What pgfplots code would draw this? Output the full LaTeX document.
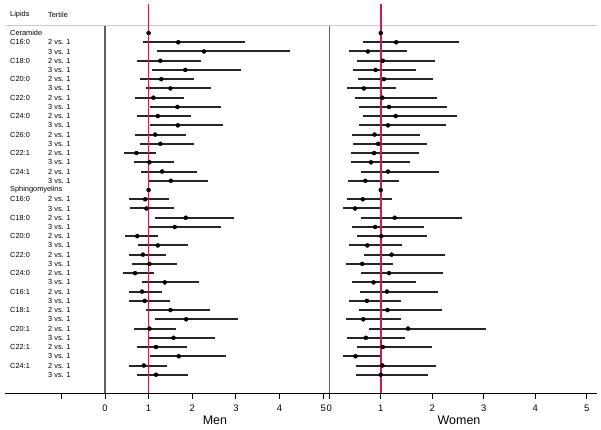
\documentclass[border=0pt]{standalone}
\usepackage{fontspec}
\setmainfont{Liberation Sans}
\usepackage{pgfplots}
\usepackage{pgfplotstable}
\pgfplotsset{compat=1.18}
\definecolor{refred}{RGB}{200,30,80}
\definecolor{sepgray}{RGB}{95,95,95}
\definecolor{hdrgray}{RGB}{205,205,205}

% rows: 0 = Ceramide reference, 17 = Sphingomyelins reference
\pgfplotstableread{
row lo or hi
0 1 1 1
1 0.88 1.68 3.20
2 1.20 2.27 4.24
3 0.74 1.27 2.19
4 1.07 1.84 3.12
5 0.81 1.29 2.05
6 0.93 1.50 2.43
7 0.68 1.11 1.82
8 1.04 1.66 2.67
9 0.73 1.21 1.97
10 1.04 1.67 2.70
11 0.69 1.15 1.85
12 0.80 1.27 2.04
13 0.44 0.72 1.16
14 0.66 1.02 1.58
15 0.82 1.31 2.10
16 0.98 1.51 2.37
17 1 1 1
18 0.56 0.92 1.47
19 0.58 0.95 1.58
20 1.15 1.85 2.95
21 0.98 1.60 2.65
22 0.46 0.74 1.21
23 0.76 1.21 1.91
24 0.54 0.87 1.40
25 0.63 1.02 1.66
26 0.42 0.69 1.13
27 0.86 1.37 2.16
28 0.55 0.85 1.31
29 0.56 0.91 1.49
30 0.95 1.50 2.40
31 1.14 1.86 3.05
32 0.66 1.02 1.63
33 1.00 1.57 2.53
34 0.73 1.17 1.88
35 1.04 1.69 2.77
36 0.56 0.89 1.42
37 0.73 1.17 1.90
}\men

\pgfplotstableread{
row lo or hi
0 1 1 1
1 0.66 1.30 2.52
2 0.38 0.75 1.51
3 0.53 1.04 2.05
4 0.47 0.90 1.69
5 0.56 1.06 2.01
6 0.35 0.67 1.29
7 0.49 1.03 2.10
8 0.58 1.16 2.29
9 0.66 1.29 2.48
10 0.58 1.14 2.26
11 0.44 0.88 1.77
12 0.47 0.95 1.90
13 0.43 0.87 1.75
14 0.42 0.81 1.56
15 0.61 1.14 2.14
16 0.36 0.70 1.35
17 1 1 1
18 0.34 0.65 1.22
19 0.26 0.50 0.99
20 0.62 1.27 2.58
21 0.44 0.89 1.84
22 0.54 1.01 1.90
23 0.39 0.74 1.42
24 0.67 1.21 2.25
25 0.33 0.64 1.24
26 0.61 1.16 2.21
27 0.44 0.86 1.69
28 0.59 1.12 2.11
29 0.39 0.73 1.40
30 0.58 1.13 2.19
31 0.32 0.66 1.39
32 0.77 1.53 3.04
33 0.35 0.71 1.47
34 0.54 1.04 2.00
35 0.27 0.51 1.00
36 0.52 1.03 2.08
37 0.52 1.00 1.92
}\women

\newcommand{\lab}{\fontsize{7.4}{8}\selectfont}

\pgfplotsset{
  forest/.style={
    scale only axis,
    height=389.3bp,
    ymin=-3.14, ymax=39.01,
    y dir=reverse,
    axis x line=bottom,
    axis y line=none,
    x axis line style={-, black, line width=1.1bp},
    tick align=outside,
    major tick length=5.5bp,
    xtick style={black, line width=0.9bp},
    xticklabel style={font=\fontsize{9.5}{11}\selectfont, yshift=-2.5bp},
    /pgf/number format/assume math mode=true,
    clip=false,
  },
  bars/.style={
    only marks, mark=none,
    error bars/.cd, x dir=both, x explicit, error mark=none,
    error bar style={black!85, line width=2bp},
  },
  dots/.style={only marks, mark=*, mark size=1.7bp, black},
}

\begin{document}
\begin{tikzpicture}
\useasboundingbox (0,0) rectangle (601bp,430bp);

% Men panel (also carries the label column on its left)
\begin{axis}[forest,
  at={(5bp,36.7bp)},
  width=324.3bp,
  xmin=-2.29, xmax=5.14,
  xtick={-1,0,1,2,3,4,5},
  xticklabels={,0,1,2,3,4,5},
]
\addplot[hdrgray, line width=1bp] coordinates {(-2.29,-0.79) (5.14,-0.79)};
\addplot[sepgray, line width=1.1bp] coordinates {(0,-0.79) (0,39.01)};
\addplot[bars] table[x=or, y=row,
  x error plus expr=\thisrow{hi}-\thisrow{or},
  x error minus expr=\thisrow{or}-\thisrow{lo}] {\men};
\addplot[refred, line width=1.5bp] coordinates {(1,-3.14) (1,39.01)};
\addplot[dots] table[x=or, y=row] {\men};

\node[anchor=west, inner sep=0pt, font=\lab] at (axis cs:-2.175,-1.95) {Lipids};
\node[anchor=west, inner sep=0pt, font=\lab] at (axis cs:-1.305,-1.95) {Tertile};
\node[anchor=west, inner sep=0pt, font=\lab] at (axis cs:-2.175,0) {Ceramide};
\node[anchor=west, inner sep=0pt, font=\lab] at (axis cs:-2.175,17) {Sphingomyelins};
\pgfplotsinvokeforeach{1,3,5,7,9,11,13,15,18,20,22,24,26,28,30,32,34,36}{
  \node[anchor=west, inner sep=0pt, font=\lab] at (axis cs:-1.305,#1) {2 vs. 1};
  \node[anchor=west, inner sep=0pt, font=\lab] at (axis cs:-1.305,#1+1) {3 vs. 1};
}
\node[anchor=west, inner sep=0pt, font=\lab] at (axis cs:-2.175,1) {C16:0};
\node[anchor=west, inner sep=0pt, font=\lab] at (axis cs:-2.175,3) {C18:0};
\node[anchor=west, inner sep=0pt, font=\lab] at (axis cs:-2.175,5) {C20:0};
\node[anchor=west, inner sep=0pt, font=\lab] at (axis cs:-2.175,7) {C22:0};
\node[anchor=west, inner sep=0pt, font=\lab] at (axis cs:-2.175,9) {C24:0};
\node[anchor=west, inner sep=0pt, font=\lab] at (axis cs:-2.175,11) {C26:0};
\node[anchor=west, inner sep=0pt, font=\lab] at (axis cs:-2.175,13) {C22:1};
\node[anchor=west, inner sep=0pt, font=\lab] at (axis cs:-2.175,15) {C24:1};
\node[anchor=west, inner sep=0pt, font=\lab] at (axis cs:-2.175,18) {C16:0};
\node[anchor=west, inner sep=0pt, font=\lab] at (axis cs:-2.175,20) {C18:0};
\node[anchor=west, inner sep=0pt, font=\lab] at (axis cs:-2.175,22) {C20:0};
\node[anchor=west, inner sep=0pt, font=\lab] at (axis cs:-2.175,24) {C22:0};
\node[anchor=west, inner sep=0pt, font=\lab] at (axis cs:-2.175,26) {C24:0};
\node[anchor=west, inner sep=0pt, font=\lab] at (axis cs:-2.175,28) {C16:1};
\node[anchor=west, inner sep=0pt, font=\lab] at (axis cs:-2.175,30) {C18:1};
\node[anchor=west, inner sep=0pt, font=\lab] at (axis cs:-2.175,32) {C20:1};
\node[anchor=west, inner sep=0pt, font=\lab] at (axis cs:-2.175,34) {C22:1};
\node[anchor=west, inner sep=0pt, font=\lab] at (axis cs:-2.175,36) {C24:1};

\node[font=\fontsize{12.5}{14}\selectfont] at (axis cs:2.52,41.9) {Men};
\end{axis}

% Women panel
\begin{axis}[forest,
  at={(329.3bp,36.7bp)},
  width=267.4bp,
  xmin=0, xmax=5.195,
  xtick={0,1,2,3,4,5},
  xticklabels={0,1,2,3,4,5},
]
\addplot[hdrgray, line width=1bp] coordinates {(0,-0.79) (5.195,-0.79)};
\addplot[sepgray, line width=1.1bp] coordinates {(0,-0.79) (0,39.01)};
\addplot[bars] table[x=or, y=row,
  x error plus expr=\thisrow{hi}-\thisrow{or},
  x error minus expr=\thisrow{or}-\thisrow{lo}] {\women};
\addplot[refred, line width=1.5bp] coordinates {(1,-3.14) (1,39.01)};
\addplot[dots] table[x=or, y=row] {\women};
\node[font=\fontsize{12.5}{14}\selectfont] at (axis cs:2.52,41.9) {Women};
\end{axis}
\end{tikzpicture}
\end{document}
